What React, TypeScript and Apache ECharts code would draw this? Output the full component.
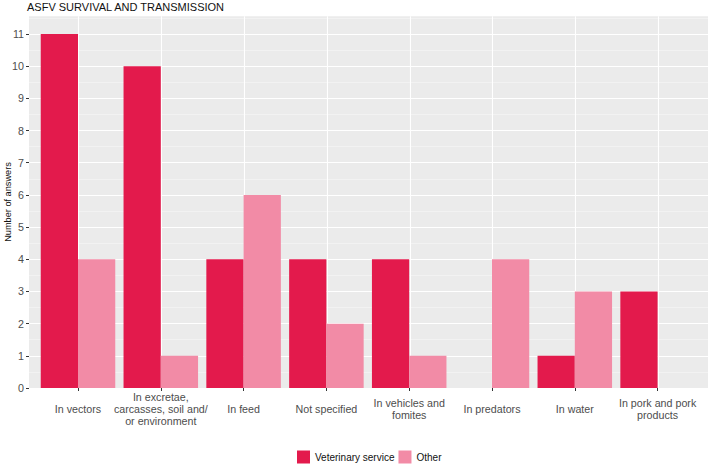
import React, { useEffect, useRef } from "react";
import * as echarts from "echarts";

const titleText = "ASFV SURVIVAL AND TRANSMISSION";
const yAxisName = "Number of answers";
const categories = [
  "In vectors",
  "In excretae,\ncarcasses, soil and/\nor environment",
  "In feed",
  "Not specified",
  "In vehicles and\nfomites",
  "In predators",
  "In water",
  "In pork and pork\nproducts",
];
const seriesNames = ["Veterinary service", "Other"];
const vetValues = [11, 10, 4, 4, 4, 0, 1, 3];
const otherValues = [4, 1, 6, 2, 1, 4, 3, 0];
const yMax = 11;
const colors = ["#E31A4C", "#F28BA6"];

const FONT = "'Liberation Sans', Arial, Helvetica, sans-serif";

export default function App() {
  const ref = useRef<HTMLDivElement>(null);
  useEffect(() => {
    if (!ref.current) return;
    const chart = echarts.init(ref.current, undefined, { renderer: "svg" });
    const panelTop = 16.3;
    const panelBottom = 76;
    const option: any = {
      animation: false,
      backgroundColor: "#ffffff",
      textStyle: { fontFamily: FONT },
      title: {
        text: titleText,
        left: 27,
        top: 1,
        padding: 0,
        textStyle: { fontSize: 11, fontWeight: "normal", color: "#111", fontFamily: FONT },
      },
      legend: {
        data: seriesNames,
        left: 297,
        top: 450.5,
        padding: 0,
        itemWidth: 13,
        itemHeight: 13,
        itemGap: 4,
        icon: "rect",
        textStyle: { fontSize: 10, color: "#111", fontFamily: FONT },
      },
      graphic: [
        {
          type: "text",
          x: 8,
          y: 202,
          rotation: Math.PI / 2,
          silent: true,
          style: {
            text: yAxisName,
            fill: "#111",
            fontSize: 9.2,
            fontFamily: FONT,
            align: "center",
            verticalAlign: "middle",
            textAlign: "center",
            textVerticalAlign: "middle",
          },
        },
      ],
      grid: [
        { left: 36.6, right: 10, top: 34, bottom: panelBottom, show: false },
        {
          left: 29,
          right: 1,
          top: panelTop,
          bottom: panelBottom,
          show: true,
          backgroundColor: "#EBEBEB",
          borderWidth: 0,
        },
      ],
      xAxis: [
        {
          type: "category",
          gridIndex: 0,
          data: categories,
          axisLine: { show: false },
          axisTick: { show: true, alignWithLabel: true, length: 3, lineStyle: { color: "#333", width: 1 } },
          axisLabel: {
            interval: 0,
            fontSize: 10.7,
            lineHeight: 12,
            color: "#4D4D4D",
            verticalAlign: "middle",
            margin: 21,
            fontFamily: FONT,
          },
          splitLine: { show: false },
        },
        {
          type: "value",
          gridIndex: 1,
          min: 0.4,
          max: 8.6,
          show: false,
        },
      ],
      yAxis: [
        {
          type: "value",
          gridIndex: 0,
          min: 0,
          max: yMax,
          interval: 1,
          offset: 7.6,
          axisLine: { show: false },
          axisTick: { show: true, length: 3, lineStyle: { color: "#333", width: 1 } },
          axisLabel: { fontSize: 10.7, color: "#4D4D4D", margin: 5, fontFamily: FONT },
          splitLine: { show: false },
        },
        {
          type: "value",
          gridIndex: 1,
          position: "left",
          min: 0,
          max: 11.55,
          interval: 0.5,
          axisLine: { show: false },
          axisTick: { show: false },
          axisLabel: { show: false },
          splitLine: {
            show: true,
            showMinLine: false,
            showMaxLine: false,
            lineStyle: { color: "#F7F7F7", width: 0.6 },
          },
        },
        {
          type: "value",
          gridIndex: 1,
          position: "left",
          min: 0,
          max: 11.55,
          interval: 1,
          axisLine: { show: false },
          axisTick: { show: false },
          axisLabel: { show: false },
          splitLine: {
            show: true,
            showMinLine: false,
            showMaxLine: false,
            lineStyle: { color: "#FFFFFF", width: 1.1 },
          },
        },
      ],
      series: [
        {
          type: "line",
          xAxisIndex: 1,
          yAxisIndex: 2,
          data: [],
          z: 1,
          zlevel: 0,
          silent: true,
          markLine: {
            silent: true,
            z: 1,
            symbol: ["none", "none"],
            label: { show: false },
            lineStyle: { color: "#FFFFFF", width: 1.1, type: "solid" },
            data: categories.map((_, i) => ({ xAxis: i + 1 })),
          },
        },
        {
          name: seriesNames[0],
          type: "bar",
          xAxisIndex: 0,
          yAxisIndex: 0,
          data: vetValues,
          barGap: "0%",
          barCategoryGap: "10%",
          itemStyle: { color: colors[0] },
          z: 3,
        },
        {
          name: seriesNames[1],
          type: "bar",
          xAxisIndex: 0,
          yAxisIndex: 0,
          data: otherValues,
          barGap: "0%",
          barCategoryGap: "10%",
          itemStyle: { color: colors[1] },
          z: 3,
        },
      ],
    };
    chart.setOption(option);
    return () => chart.dispose();
  }, []);
  return (
    <div
      ref={ref}
      style={{ position: "fixed", left: 0, top: 0, width: 709, height: 464 }}
    />
  );
}
